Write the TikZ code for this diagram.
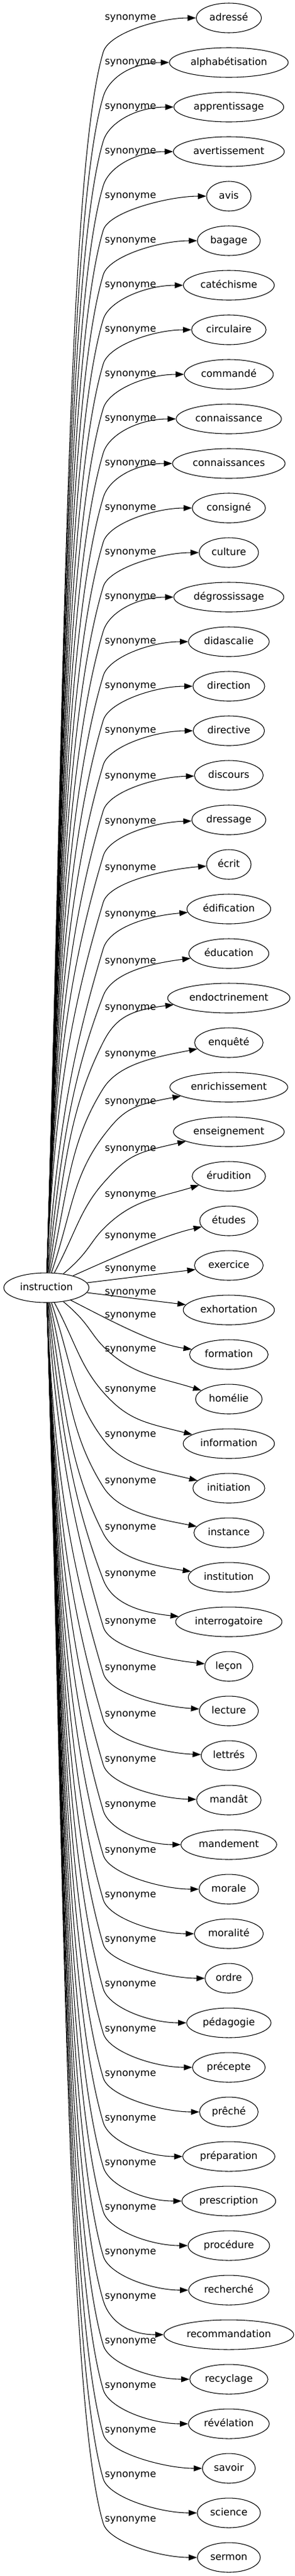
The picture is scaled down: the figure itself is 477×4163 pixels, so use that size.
\documentclass[tikz,border=0pt]{standalone}
\usepackage{fontspec}
\setmainfont{DejaVu Sans}
\usetikzlibrary{arrows.meta,positioning,calc,shapes.geometric}

\begin{document}
\begin{tikzpicture}[
    %–––– GLOBAL STYLE TWEAKS ––––
    x=0.75pt, y=-0.75pt,                             % 1 unit = 1 px, y downwards
    font=\fontsize{12}{14}\selectfont,
    >={Triangle[length=10pt,width=7pt]},
    node distance = 17.2pt,                          % gap between two words (outer sep taken off)
    term/.style  = {ellipse, draw, line width=0.8pt,
                    minimum width=54pt, minimum height=36pt,
                    inner xsep=4.5pt, inner ysep=2pt,
                    text height=9pt, text depth=2.5pt},
    rel/.style   = {inner sep=0pt, text height=9pt, text depth=2.5pt},
    arrow/.style = {->, line width=0.8pt},
]
\useasboundingbox (0,0) rectangle (477,4163);

%–––– SOURCE WORD ––––
\node (instr) [term] at (75,2081) {instruction};

%–––– SYNONYMS (one column) ––––
\node (t0) [term] at (370,29) {adressé};
\foreach \w [count=\i, remember=\i as \j (initially 0)] in {
  alphabétisation, apprentissage, avertissement, avis, bagage, catéchisme,
  circulaire, commandé, connaissance, connaissances, consigné, culture,
  dégrossissage, didascalie, direction, directive, discours, dressage,
  écrit, édification, éducation, endoctrinement, enquêté, enrichissement,
  enseignement, érudition, études, exercice, exhortation, formation,
  homélie, information, initiation, instance, institution, interrogatoire,
  leçon, lecture, lettrés, mandât, mandement, morale, moralité, ordre,
  pédagogie, précepte, prêché, préparation, prescription, procédure,
  recherché, recommandation, recyclage, révélation, savoir, science, sermon}
  \node (t\i) [term, below=of t\j] {\w};

%–––– UPPER FAN (bend below the label) ––––
\foreach \i/\ey/\ly in {
  0/84/28, 1/156/100, 2/228/172, 3/300/244, 4/372/316, 5/444/388,
  6/516/460, 7/588/532, 8/660/604, 9/732/676, 10/804/748, 11/876/820,
  12/948/892, 13/1020/964, 14/1092/1036, 15/1164/1108, 16/1236/1180,
  17/1310/1254, 18/1383/1327, 19/1458/1402, 20/1533/1477, 21/1609/1553,
  22/1684/1628, 23/1759/1703, 24/1836/1780, 25/1912/1856, 26/1986/1930}{
  \pgfmathsetmacro\hh{2057-\ey}
  \pgfmathsetmacro\dd{\ey-(29+72*\i)}
  \pgfmathsetmacro\ta{0.3+0.7*max(0,(500-\hh)/430)}
  \pgfmathsetmacro\mm{min(0.3*\hh,200)}
  \pgfmathsetmacro\nn{0.55*\dd}
  \pgfmathsetmacro\off{0.6*max(0,\dd-55)}
  \pgfmathsetmacro\xa{80+0.012*\hh+max(0,600-\hh)*0.09+max(0,100-\hh)*0.5}
  \pgfmathsetmacro\ya{2057-0.45*\hh}
  \draw[arrow] (instr) .. controls (\xa,\ya) and ({167-\ta*\mm},{\ey+\mm}) .. (167,\ey)
     .. controls ({167+\ta*\nn},{\ey-\nn}) and ($(t\i.west)+(-60,{2*\off})$) .. (t\i);
  \node (lab\i) [rel] at (211,\ly) {synonyme};
}

%–––– LOWER FAN (bend beside the label) ––––
\foreach \i/\ey/\ly in {
  31/2176/2180, 32/2250/2245, 33/2326/2318, 34/2403/2393, 35/2478/2468,
  36/2553/2543, 37/2629/2620, 38/2704/2695, 39/2779/2770, 40/2852/2843,
  41/2926/2916, 42/2998/2990, 43/3070/3062, 44/3142/3134, 45/3214/3206,
  46/3286/3279, 47/3358/3351, 48/3430/3423, 49/3502/3495, 50/3574/3567,
  51/3646/3639, 52/3718/3711, 53/3790/3783, 54/3862/3855, 55/3934/3927,
  56/4006/3999, 57/4078/4071}{
  \pgfmathsetmacro\hh{\ey-2105}
  \pgfmathsetmacro\dd{(29+72*\i)-\ey}
  \pgfmathsetmacro\ta{0.3+0.7*max(0,(500-\hh)/430)}
  \pgfmathsetmacro\mm{min(0.3*\hh,200)}
  \pgfmathsetmacro\nn{0.55*\dd}
  \pgfmathsetmacro\off{0.6*max(0,\dd-55)}
  \pgfmathsetmacro\xa{80+0.012*\hh+max(0,600-\hh)*0.09+max(0,100-\hh)*0.5}
  \pgfmathsetmacro\ya{2105+0.45*\hh}
  \draw[arrow] (instr) .. controls (\xa,\ya) and ({167-\ta*\mm},{\ey-\mm}) .. (167,\ey)
     .. controls ({167+\ta*\nn},{\ey+\nn}) and ($(t\i.west)+(-60,{-2*\off})$) .. (t\i);
  \node (lab\i) [rel] at (211,\ly) {synonyme};
}

%–––– MIDDLE (almost straight) ––––
\draw[arrow] (instr) .. controls (200,2025) and (270,1995) .. (t27);
\draw[arrow] (instr) -- (t28);
\draw[arrow] (instr) -- (t29);
\draw[arrow] (instr) .. controls (190,2140) and (250,2172) .. (t30);
\foreach \i/\ly in {27/1997, 28/2050, 29/2088, 30/2125}
  \node (lab\i) [rel] at (211,\ly) {synonyme};
\end{tikzpicture}
\end{document}
